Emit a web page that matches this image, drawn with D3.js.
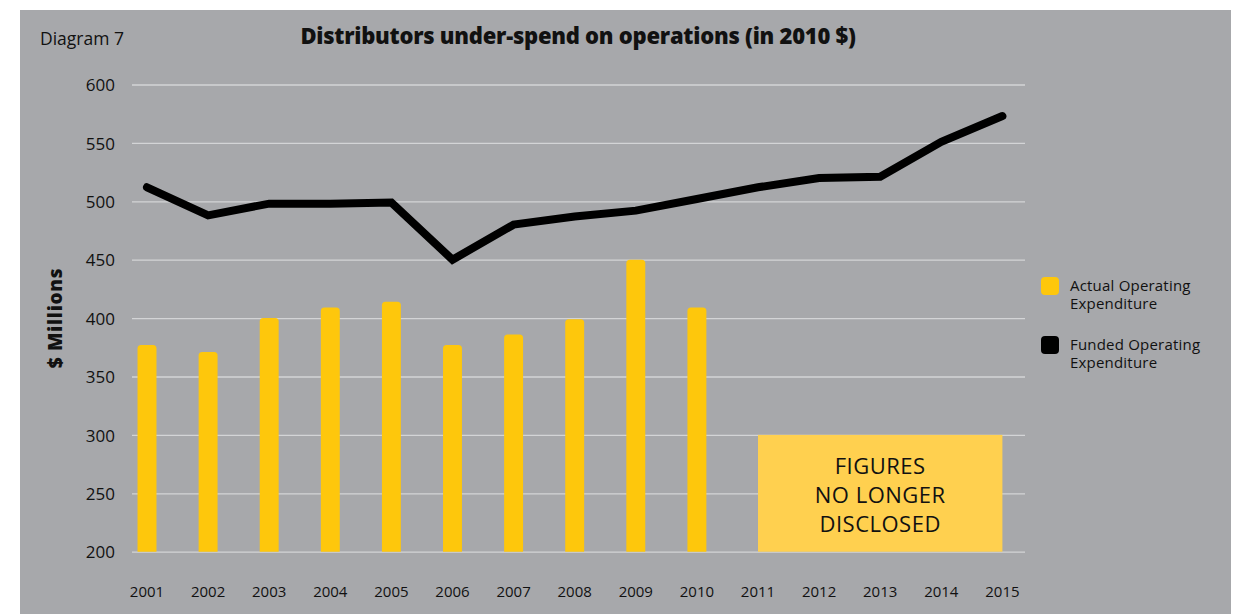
<!DOCTYPE html>
<html>
<head>
<meta charset="utf-8">
<script src="https://cdn.jsdelivr.net/npm/d3@7"></script>
<style>
  html, body { margin: 0; padding: 0; background: #ffffff; }
  svg { display: block; }
  text { font-family: "Open Sans", Roboto, sans-serif; fill: #111; }
</style>
</head>
<body>
<svg id="chart" width="1239" height="614"></svg>
<script>
// Years on the x axis
const years = ["2001","2002","2003","2004","2005","2006","2007","2008",
               "2009","2010","2011","2012","2013","2014","2015"];
// Actual operating expenditure, $ millions (2010 $), reported through 2010
const actualYears = ["2001","2002","2003","2004","2005","2006","2007","2008","2009","2010"];
const actualValues = [377, 371, 400, 409, 414, 377, 386, 399, 450, 409];
// Funded operating expenditure, $ millions (2010 $)
const fundedValues = [512, 488, 498, 498, 499, 450, 480, 487, 492, 502, 512, 520, 521, 551, 573];
// Y axis ticks
const yTicks = [200, 250, 300, 350, 400, 450, 500, 550, 600];
// Years with undisclosed figures, and the box value range
const undisclosedYears = ["2011", "2015"];
const undisclosedRange = [200, 300];
const undisclosedText = ["FIGURES", "NO LONGER", "DISCLOSED"];
const legendItems = [
  { lines: ["Actual Operating", "Expenditure"], color: "#fec70c" },
  { lines: ["Funded Operating", "Expenditure"], color: "#000000" }
];

const svg = d3.select("#chart");

// Panel background
svg.append("rect").attr("x", 20).attr("y", 10).attr("width", 1211).attr("height", 604)
  .attr("fill", "#a7a8ab");

const step = 61.1;
const x = d3.scaleBand().domain(years)
  .range([147 - step / 2, 147 - step / 2 + step * years.length])
  .paddingInner(0.69).paddingOuter(0.345);
const cx = d => x(d) + x.bandwidth() / 2;

const y = d3.scaleLinear().domain([200, 600]).range([551.7, 84.5]);

// Gridlines and y tick labels
const yAxis = d3.axisLeft(y).tickValues(yTicks).tickSize(-(1025 - 132)).tickPadding(17);
const gy = svg.append("g").attr("transform", "translate(132,0)").call(yAxis);
gy.select(".domain").remove();
gy.selectAll(".tick line").attr("stroke", "#d3d4d6").attr("stroke-width", 1.3);
gy.selectAll(".tick text").attr("font-size", 17).attr("fill", "#111")
  .attr("font-family", "Roboto, sans-serif").attr("dy", "0.36em");

// X axis labels
const xAxis = d3.axisBottom(x).tickSize(0).tickPadding(0);
const gx = svg.append("g").attr("transform", "translate(0,586)").call(xAxis);
gx.select(".domain").remove();
gx.selectAll(".tick text").attr("font-size", 15).attr("fill", "#111")
  .attr("font-family", "Roboto, sans-serif");

// Bars with rounded tops
const r = 3.5;
const bw = x.bandwidth();
svg.append("g").selectAll("path").data(actualYears.map((yr, i) => ({ yr, v: actualValues[i] })))
  .join("path")
  .attr("fill", "#fec70c")
  .attr("d", d => {
    const x0 = x(d.yr), x1 = x0 + bw, yt = y(d.v), yb = y(200);
    return `M${x0},${yb}V${yt + r}Q${x0},${yt} ${x0 + r},${yt}H${x1 - r}Q${x1},${yt} ${x1},${yt + r}V${yb}Z`;
  });

// Undisclosed box
const bx0 = cx(undisclosedYears[0]), bx1 = cx(undisclosedYears[1]);
svg.append("rect")
  .attr("x", bx0).attr("y", y(undisclosedRange[1]))
  .attr("width", bx1 - bx0).attr("height", y(undisclosedRange[0]) - y(undisclosedRange[1]))
  .attr("fill", "#ffd04f");
svg.append("g").selectAll("text").data(undisclosedText).join("text")
  .attr("x", (bx0 + bx1) / 2)
  .attr("y", (d, i) => 474 + i * 29)
  .attr("text-anchor", "middle")
  .attr("font-size", 22)
  .attr("letter-spacing", 0.5)
  .attr("fill", "#111")
  .text(d => d);

// Funded line
const line = d3.line().x((d, i) => cx(years[i])).y(d => y(d));
svg.append("path").datum(fundedValues)
  .attr("d", line)
  .attr("fill", "none").attr("stroke", "#000")
  .attr("stroke-width", 8).attr("stroke-linecap", "round").attr("stroke-linejoin", "miter");

// Legend
const lg = svg.append("g");
legendItems.forEach((it, i) => {
  const gy0 = 277 + i * 59;
  lg.append("rect").attr("x", 1041).attr("y", gy0).attr("width", 18).attr("height", 18)
    .attr("rx", 4).attr("fill", it.color);
  it.lines.forEach((ln, j) => {
    lg.append("text").attr("x", 1070).attr("y", gy0 + 14 + j * 18)
      .attr("font-size", 15).attr("letter-spacing", 0.2).text(ln);
  });
});

// Titles
svg.append("text").attr("x", 40).attr("y", 45).attr("font-size", 17.5)
  .text("Diagram 7");
svg.append("text").attr("x", 578).attr("y", 44).attr("text-anchor", "middle")
  .attr("font-size", 22).attr("font-weight", 900)
  .attr("font-family", "Roboto, sans-serif").attr("letter-spacing", -0.25)
  .text("Distributors under-spend on operations (in 2010 $)");
svg.append("text")
  .attr("transform", "translate(62,318) rotate(-90)")
  .attr("text-anchor", "middle").attr("font-size", 19).attr("font-weight", 900)
  .attr("font-family", "Roboto, sans-serif").attr("letter-spacing", 0.7)
  .text("$ Millions");
</script>
</body>
</html>
